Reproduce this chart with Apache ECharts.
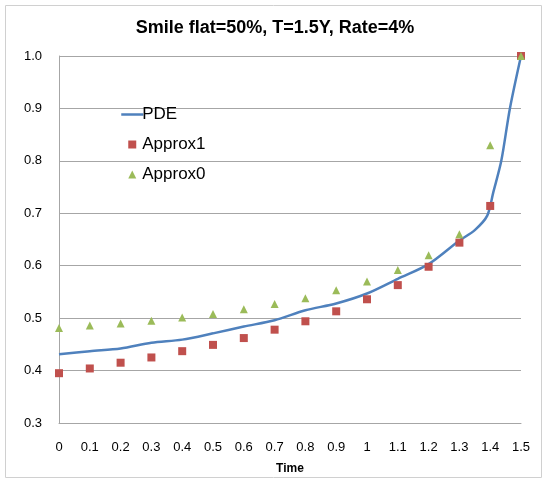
<!DOCTYPE html>
<html><head><meta charset="utf-8">
<script src="https://cdn.jsdelivr.net/npm/echarts@6/dist/echarts.min.js"></script>
<style>html,body{margin:0;padding:0;background:#fff}#c{width:544px;height:480px}</style>
</head><body><div id="c"></div>
<script>
const timeTicks = [0,0.1,0.2,0.3,0.4,0.5,0.6,0.7,0.8,0.9,1.0,1.1,1.2,1.3,1.4,1.5];
const approx1 = [0.395,0.404,0.415,0.425,0.437,0.449,0.462,0.478,0.494,0.513,0.536,0.563,0.598,0.644,0.714,1.0];
const approx0 = [0.481,0.486,0.490,0.495,0.501,0.508,0.517,0.527,0.538,0.553,0.570,0.592,0.620,0.660,0.830,1.0];
const pdeTime = [0,0.1,0.2,0.3,0.4,0.5,0.6,0.7,0.8,0.9,1.0,1.1,1.2,1.3,1.35,1.39,1.41,1.436,1.464,1.5];
const pdeVals = [0.431,0.437,0.442,0.453,0.459,0.471,0.484,0.496,0.515,0.528,0.547,0.575,0.603,0.648,0.668,0.695,0.74,0.8,0.9,1.0];

const chart = echarts.init(document.getElementById('c'));
const font = 'Liberation Sans';
chart.setOption({
  animation:false,
  textStyle:{fontFamily:font},
  graphic:[{type:'rect',shape:{x:5.5,y:5.5,width:536,height:472},style:{fill:'none',stroke:'#d0d0d0',lineWidth:1},silent:true}],
  title:{text:'Smile flat=50%, T=1.5Y, Rate=4%',left:270,textAlign:'center',top:14,
    textStyle:{fontFamily:font,fontSize:18,fontWeight:'bold',color:'#000'}},
  grid:{left:59,right:23,top:56,bottom:57},
  legend:{orient:'vertical',left:115,top:101,itemWidth:22,itemHeight:10,itemGap:13,
    textStyle:{fontFamily:font,fontSize:17,color:'#000',padding:[0,0,0,-6]},
    data:[{name:'PDE',itemStyle:{opacity:0},lineStyle:{width:2.5}},{name:'Approx1'},{name:'Approx0'}]},
  xAxis:{type:'value',min:0,max:1.5,interval:0.1,name:'Time',nameLocation:'middle',nameGap:40,
    nameTextStyle:{fontFamily:font,fontSize:12,fontWeight:'bold',color:'#000'},
    axisLine:{lineStyle:{color:'#a6a6a6'}},axisTick:{show:false},splitLine:{show:false},
    axisLabel:{margin:18,color:'#000',fontSize:13,formatter:v=>String(Math.round(v*10)/10)}},
  yAxis:{type:'value',min:0.3,max:1.0,interval:0.1,
    axisLine:{show:true,lineStyle:{color:'#a6a6a6'}},axisTick:{show:false},
    splitLine:{lineStyle:{color:'#a6a6a6'}},
    axisLabel:{margin:17,color:'#000',fontSize:13,formatter:v=>v.toFixed(1)}},
  series:[
    {name:'PDE',type:'line',smooth:0.3,symbol:'none',z:3,
      lineStyle:{color:'#4F81BD',width:2.5},itemStyle:{color:'#4F81BD'},
      data:pdeTime.map((t,i)=>[t,pdeVals[i]])},
    {name:'Approx1',type:'line',symbol:'rect',symbolSize:8,showSymbol:true,z:4,
      lineStyle:{opacity:0,width:0},itemStyle:{color:'#C0504D'},data:timeTicks.map((t,i)=>[t,approx1[i]])},
    {name:'Approx0',type:'line',symbol:'triangle',symbolSize:8,showSymbol:true,z:5,
      lineStyle:{opacity:0,width:0},itemStyle:{color:'#9BBB59'},data:timeTicks.map((t,i)=>[t,approx0[i]])}
  ]
});
</script></body></html>
